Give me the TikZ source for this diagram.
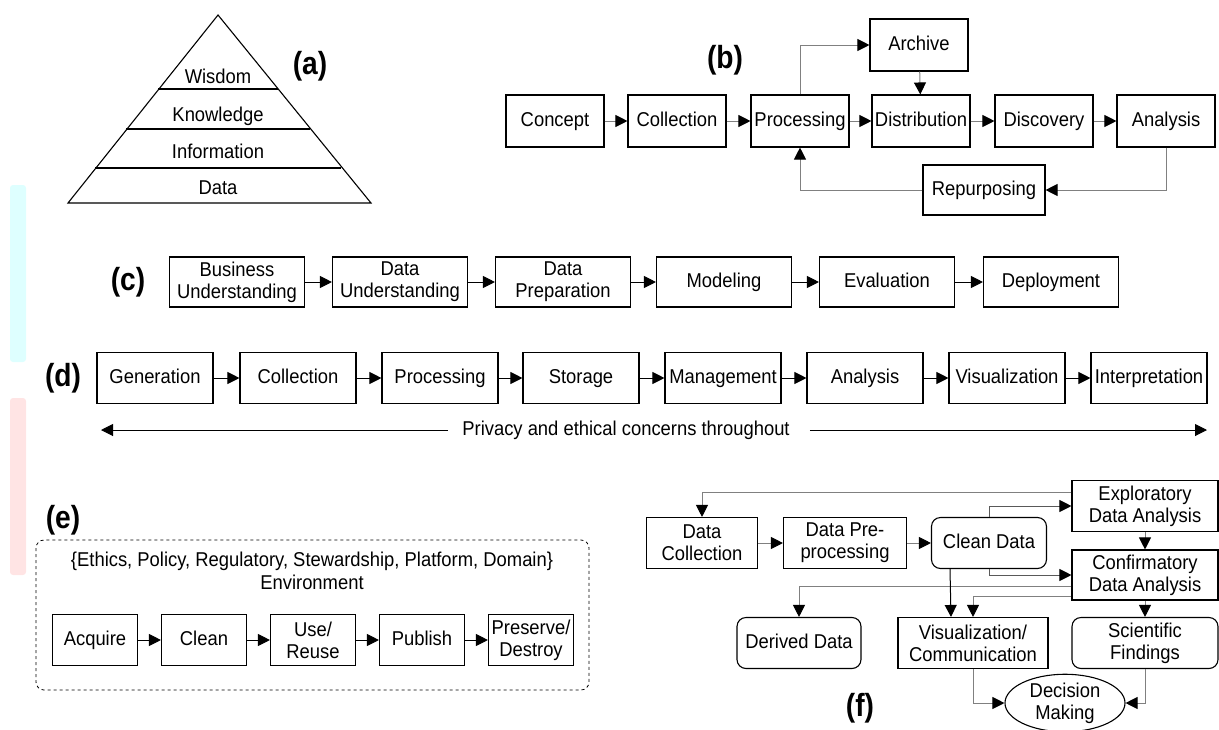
\documentclass[tikz,border=0pt]{standalone}
\usepackage{fontspec}
\setmainfont[FakeStretch=0.92]{Liberation Sans}
\newfontfamily\lblfont[FakeStretch=0.88]{Liberation Sans}
\usetikzlibrary{arrows.meta,shapes.geometric}

\definecolor{sidecyan}{RGB}{222,255,255}
\definecolor{sidepink}{RGB}{255,228,228}

\tikzset{
  box/.style={draw, line width=1.1pt, inner sep=1pt, align=center},
  rbox/.style={box, rounded corners=9pt},
  one/.style={text height=14.5pt, text depth=4pt},
  lbl/.style={font=\lblfont\fontsize{32}{34}\selectfont\bfseries},
  arr/.style={line width=1pt, -{Triangle[length=12pt,width=12pt,color=black]}},
}

\begin{document}
\begin{tikzpicture}[x=1pt,y=-1pt,font=\fontsize{20}{22}\selectfont]

      \useasboundingbox (0,0) rectangle (1219,729);

      % side marks
      \fill[sidecyan, rounded corners=3pt] (10,185) rectangle (26,362);
      \fill[sidepink, rounded corners=3pt] (10,398) rectangle (26,575);

      % (a) pyramid
      \draw[line width=1.1pt] (218,15) -- (371,203) -- (68,203) -- cycle;
      \draw[line width=1.1pt] (158,89) -- (278,89);
      \draw[line width=1.1pt] (126,129) -- (310,129);
      \draw[line width=1.1pt] (95,168) -- (341,168);
      \begin{scope}[every node/.style={one}]
        \node (a1) at (218,78)  {Wisdom};
        \node (a2) at (218,116) {Knowledge};
        \node (a3) at (218,153) {Information};
        \node (a4) at (218,189) {Data};
      \end{scope}
      \node[lbl] (la) at (310,66) {(a)};

      % (b)
      \begin{scope}[every node/.style={box, one, minimum width=98pt, minimum height=52pt}]
        \node (b1) at (555,121) {Concept};
        \node (b2) at (677,121) {Collection};
        \node (b3) at (800,121) {Processing};
        \node (b4) at (921,121) {Distribution};
        \node (b5) at (1044,121) {Discovery};
        \node (b6) at (1166,121) {Analysis};
        \node (b7) at (919,45) {Archive};
        \node (b8) at (984,190) [minimum width=122pt, minimum height=50pt] {Repurposing};
      \end{scope}
      \node[lbl] (lb) at (725,60) {(b)};

      \begin{scope}[every edge/.style={draw=gray, arr}]
        \path (b1) edge (b2);
        \path (b2) edge (b3);
        \path (b3) edge (b4);
        \path (b4) edge (b5);
        \path (b5) edge (b6);
        \path (b7) edge (b4);
      \end{scope}
      \draw[draw=gray, arr] (b3.north) |- (b7.west);
      \draw[draw=gray, arr] (b6.south) |- (b8.east);
      \draw[draw=gray, arr] (b8.west) -| (b3.south);

      % (c)
      \begin{scope}[every node/.style={box, minimum width=135pt, minimum height=50pt}]
        \node (c1) at (237,282)  {Business\\Understanding};
        \node (c2) at (400,282)  {Data\\Understanding};
        \node (c3) at (563,282)  {Data\\Preparation};
        \node (c4) at (724,282)  [one] {Modeling};
        \node (c5) at (887,282)  [one] {Evaluation};
        \node (c6) at (1051,282) [one] {Deployment};
      \end{scope}
      \node[lbl] (lc) at (128,282) {(c)};

      \begin{scope}[every edge/.style={draw, arr}]
        \path (c1) edge (c2);
        \path (c2) edge (c3);
        \path (c3) edge (c4);
        \path (c4) edge (c5);
        \path (c5) edge (c6);
      \end{scope}

      % (d)
      \begin{scope}[every node/.style={box, one, minimum width=116pt, minimum height=51pt}]
        \node (d1) at (155,378)  {Generation};
        \node (d2) at (298,378)  {Collection};
        \node (d3) at (440,378)  {Processing};
        \node (d4) at (581,378)  {Storage};
        \node (d5) at (723,378)  {Management};
        \node (d6) at (865,378)  {Analysis};
        \node (d7) at (1007,378) {Visualization};
        \node (d8) at (1149,378) {Interpretation};
      \end{scope}
      \node[lbl] (ld) at (63,378) {(d)};

      \begin{scope}[every edge/.style={draw, arr}]
        \path (d1) edge (d2);
        \path (d2) edge (d3);
        \path (d3) edge (d4);
        \path (d4) edge (d5);
        \path (d5) edge (d6);
        \path (d6) edge (d7);
        \path (d7) edge (d8);
      \end{scope}

      \node[one, inner sep=0pt] (pv) at (626,430) {Privacy and ethical concerns throughout};
      \coordinate (pl) at (101,430);
      \coordinate (pr) at (1207,430);
      \draw[arr] ([xshift=-14pt]pv.west) -- (pl);
      \draw[arr] ([xshift=20pt]pv.east) -- (pr);

      % (e)
      \node[lbl] (le) at (63,520) {(e)};
      \draw[dashed, line width=0.8pt, rounded corners=8pt] (36,540) rectangle (589,690);
      \node[align=center, font=\fontsize{20}{23}\selectfont] (env) at (312,571)
        {\{Ethics, Policy, Regulatory, Stewardship, Platform, Domain\}\\Environment};

      \begin{scope}[every node/.style={box, minimum width=85pt, minimum height=51pt}]
        \node (e1) at (95,640)  [one] {Acquire};
        \node (e2) at (204,640) [one] {Clean};
        \node (e3) at (313,640) {Use/\\Reuse};
        \node (e4) at (422,640) [one] {Publish};
        \node (e5) at (531,640) {Preserve/\\Destroy};
      \end{scope}

      \begin{scope}[every edge/.style={draw, arr}]
        \path (e1) edge (e2);
        \path (e2) edge (e3);
        \path (e3) edge (e4);
        \path (e4) edge (e5);
      \end{scope}

      % (f)
      \begin{scope}[every node/.style={box, minimum height=51pt}]
        \node (f1) at (702,543) [minimum width=111pt] {Data\\Collection};
        \node (f2) at (845,543) [minimum width=123pt] {Data Pre-\\processing};
        \node (f3) at (989,543) [rbox, one, minimum width=115pt] {Clean Data};
        \node (f4) at (1145,506) [minimum width=146pt] {Exploratory\\Data Analysis};
        \node (f5) at (1145,575) [minimum width=146pt, minimum height=50pt] {Confirmatory\\Data Analysis};
        \node (f6) at (799,643) [rbox, one, minimum width=124pt] {Derived Data};
        \node (f7) at (973,643) [minimum width=150pt] {Visualization/\\Communication};
        \node (f8) at (1145,643) [rbox, minimum width=146pt] {Scientific\\Findings};
        \node (f9) at (1065,703) [ellipse, inner sep=0pt, minimum width=120pt, minimum height=52pt] {Decision\\Making};
      \end{scope}
      \node[lbl] (lf) at (860,708) {(f)};

      \begin{scope}[every edge/.style={draw=gray, arr}]
        \path (f1) edge (f2);
        \path (f2) edge (f3);
        \path (f4) edge (f5);
        \path (f5) edge (f8);
      \end{scope}
      \draw[draw=gray, arr] ([yshift=14pt]f4.west) -| (f1.north);
      \draw[draw=gray!70!black, arr] (f3.north) |- (f4.west);
      \draw[draw=gray!70!black, arr] (f3.south) |- (f5.west);
      \draw[draw=gray, arr] ([yshift=-11pt]f5.west) -| (f6.north);
      \draw[arr] ([xshift=-39pt]f3.south) -- ([xshift=-22pt]f7.north);
      \draw[draw=gray, arr] ([yshift=-21pt]f5.west) -| (f7.north);
      \draw[draw=gray, arr] (f7.south) |- (f9.west);
      \draw[draw=gray, arr] (f8.south) |- (f9.east);

    \end{tikzpicture}
\end{document}
